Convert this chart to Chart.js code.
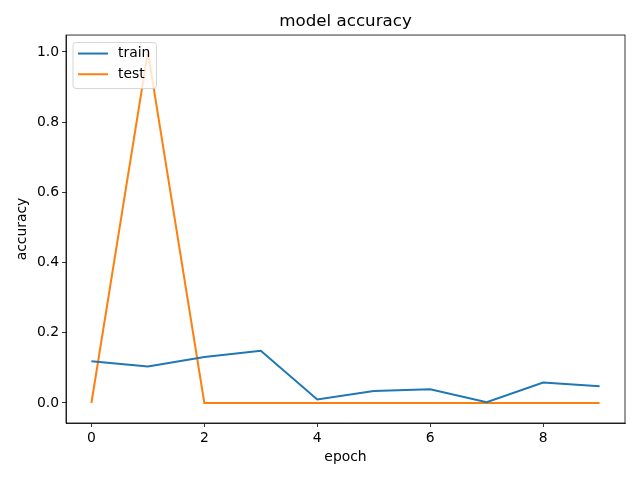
<!DOCTYPE html>
<html>
<head>
<meta charset="utf-8">
<script src="https://cdn.jsdelivr.net/npm/chart.js@4/dist/chart.umd.min.js"></script>
<style>
  html, body { margin: 0; padding: 0; background: #fff; }
  canvas { display: block; }
</style>
</head>
<body>
<canvas id="myChart" width="640" height="480"></canvas>
<script>
// data
var epochs = [0, 1, 2, 3, 4, 5, 6, 7, 8, 9];
var trainAcc = [0.119, 0.104, 0.131, 0.149, 0.010, 0.034, 0.039, 0.002, 0.058, 0.048];
var testAcc = [0.0, 1.0, 0.0, 0.0, 0.0, 0.0, 0.0, 0.0, 0.0, 0.0];
var xTicks = [0, 2, 4, 6, 8];
var yTicks = [0.0, 0.2, 0.4, 0.6, 0.8, 1.0];
var seriesNames = ["train", "test"];
var seriesColors = ["#1f77b4", "#ff7f0e"];

var FONT = "'DejaVu Sans', sans-serif";

function toPoints(ys) {
  return epochs.map(function(x, i) { return { x: x, y: ys[i] }; });
}

//!Frame + legend
var framePlugin = {
  id: "frame",
  afterDatasetsDraw: function(chart) {
    var ctx = chart.ctx, a = chart.chartArea;
    ctx.save();
    ctx.strokeStyle = "#000";
    ctx.lineWidth = 0.8;
    ctx.strokeRect(a.left, a.top, a.right - a.left, a.bottom - a.top);

    // legend box, upper left
    var bx = a.left + 7, by = a.top + 7.5, bw = 83.5, bh = 46;
    ctx.beginPath();
    ctx.roundRect(bx, by, bw, bh, 3);
    ctx.fillStyle = "rgba(255,255,255,0.8)";
    ctx.fill();
    ctx.strokeStyle = "rgba(204,204,204,0.8)";
    ctx.lineWidth = 1;
    ctx.stroke();

    ctx.font = "13.9px " + FONT;
    ctx.textBaseline = "middle";
    ctx.textAlign = "left";
    for (var i = 0; i < seriesNames.length; i++) {
      var ly = by + 11 + i * 20.7;
      ctx.beginPath();
      ctx.moveTo(bx + 5, ly);
      ctx.lineTo(bx + 35, ly);
      ctx.strokeStyle = seriesColors[i];
      ctx.lineWidth = 2;
      ctx.stroke();
      ctx.fillStyle = "#000";
      ctx.fillText(seriesNames[i], bx + 45, ly);
    }
    ctx.restore();
  }
};

var ctx = document.getElementById("myChart").getContext("2d");
var myChart = new Chart(ctx, {
  type: "scatter",
  data: {
    datasets: [
      {
        label: seriesNames[0],
        data: toPoints(trainAcc),
        showLine: true,
        borderColor: seriesColors[0],
        backgroundColor: seriesColors[0],
        borderWidth: 2,
        pointRadius: 0,
        tension: 0
      },
      {
        label: seriesNames[1],
        data: toPoints(testAcc),
        showLine: true,
        borderColor: seriesColors[1],
        backgroundColor: seriesColors[1],
        borderWidth: 2,
        pointRadius: 0,
        tension: 0
      }
    ]
  },
  options: {
    responsive: false,
    animation: false,
    devicePixelRatio: 1,
    layout: { padding: { left: 0, right: 15, top: 0, bottom: 0 } },
    plugins: {
      legend: { display: false },
      tooltip: { enabled: false },
      title: {
        display: true,
        fullSize: false,
        text: "model accuracy",
        color: "#000",
        font: { family: FONT, size: 16.7, weight: "normal" },
        padding: { top: 12, bottom: 3 }
      }
    },
    scales: {
      x: {
        type: "linear",
        min: -0.45,
        max: 9.45,
        afterBuildTicks: function(s) { s.ticks = xTicks.map(function(v) { return { value: v }; }); },
        afterFit: function(s) { s.height = 57; },
        grid: { drawOnChartArea: false, drawTicks: true, tickLength: 4, color: "#000", lineWidth: 0.8 },
        border: { display: true, color: "#000", width: 0.8 },
        ticks: {
          color: "#000",
          padding: 3,
          maxRotation: 0,
          font: { family: FONT, size: 13.9 },
          callback: function(v) { return String(v); }
        },
        title: {
          display: true,
          text: "epoch",
          color: "#000",
          font: { family: FONT, size: 13.9 },
          padding: { top: 0, bottom: 14.7 }
        }
      },
      y: {
        type: "linear",
        min: -0.057,
        max: 1.048,
        afterBuildTicks: function(s) { s.ticks = yTicks.map(function(v) { return { value: v }; }); },
        afterFit: function(s) { s.width = 66; },
        grid: { drawOnChartArea: false, drawTicks: true, tickLength: 4, color: "#000", lineWidth: 0.8 },
        border: { display: true, color: "#000", width: 0.8 },
        ticks: {
          color: "#000",
          padding: 3,
          font: { family: FONT, size: 13.9 },
          callback: function(v) { return Number(v).toFixed(1); }
        },
        title: {
          display: true,
          text: "accuracy",
          color: "#000",
          font: { family: FONT, size: 13.9 },
          padding: { top: 13.7, bottom: 0 }
        }
      }
    }
  },
  plugins: [framePlugin]
});
</script>
</body>
</html>
